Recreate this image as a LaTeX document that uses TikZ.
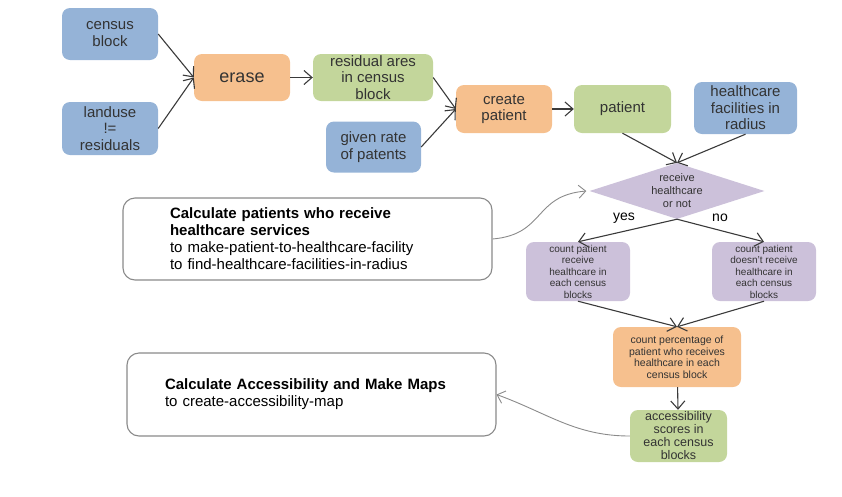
\documentclass[tikz,border=0pt]{standalone}
\usepackage{fontspec}
\setmainfont{Liberation Sans}
\usetikzlibrary{shapes.geometric,arrows.meta}

\definecolor{boxblue}{HTML}{95B3D7}
\definecolor{boxorange}{HTML}{F6C08E}
\definecolor{boxgreen}{HTML}{C3D69B}
\definecolor{boxpurple}{HTML}{CCC1DA}
\definecolor{inktext}{HTML}{333333}
\definecolor{inkline}{HTML}{3A3A3A}
\definecolor{notegray}{HTML}{8A8A8A}

\tikzset{
  stage/.style={rounded corners=8pt, align=center, text=inktext, inner sep=0pt,
    font=\fontsize{15}{16.5}\selectfont},
  bluebox/.style={stage, fill=boxblue},
  orangebox/.style={stage, fill=boxorange},
  greenbox/.style={stage, fill=boxgreen},
  purplebox/.style={stage, fill=boxpurple, font=\fontsize{10}{11.5}\selectfont},
  decision/.style={diamond, aspect=3.1, inner sep=0pt, fill=boxpurple, text=inktext,
    align=center, minimum width=175pt, minimum height=56pt, font=\fontsize{11}{13}\selectfont},
  notebox/.style={draw=notegray, line width=1.1pt, rounded corners=12pt, fill=white,
    align=left, inner ysep=0pt, font=\fontsize{15}{17}\selectfont},
  flow/.style={draw=inkline, line width=1.1pt, -{Straight Barb[length=8pt,width=14pt]}},
  notelink/.style={draw=notegray, line width=0.9pt, -{Straight Barb[length=7pt,width=13pt]}}
}

\begin{document}
\begin{tikzpicture}[x=1pt, y=-1pt]
        \useasboundingbox (0,0) rectangle (842,496);

        \node[bluebox, minimum width=96pt, minimum height=52pt] at (110,34) (census) {census\\block};
        \node[bluebox, minimum width=96pt, minimum height=53pt] at (110,128.5) (landuse) {landuse\\!=\\residuals};
        \node[orangebox, minimum width=96pt, minimum height=47pt, font=\fontsize{18}{20}\selectfont] at (242,77.5) (erase) {erase};
        \node[greenbox, minimum width=120pt, minimum height=47pt] at (373,77.5) (residual) {residual ares\\in census\\block};
        \node[bluebox, minimum width=95pt, minimum height=51pt] at (373.5,147) (rate) {given rate\\of patents};
        \node[orangebox, minimum width=96pt, minimum height=48pt] at (504,109) (create) {create\\patient};
        \node[greenbox, minimum width=97pt, minimum height=48pt] at (622.5,109) (patient) {patient};
        \node[bluebox, minimum width=103pt, minimum height=52pt] at (745.5,108) (facilities) {healthcare\\facilities in\\radius};

        \node[decision] at (677,191) (receive) {receive\\healthcare\\or not};
        \node[font=\fontsize{14}{16}\selectfont, text=black] at (624,218) (yes) {yes};
        \node[font=\fontsize{14}{16}\selectfont, text=black] at (720,218) (no) {no};

        \node[purplebox, minimum width=104pt, minimum height=59pt] at (578,271.5) (countyes) {count patient\\receive\\healthcare in\\each census\\blocks};
        \node[purplebox, minimum width=104pt, minimum height=59pt] at (764,271.5) (countno) {count patient\\doesn't receive\\healthcare in\\each census\\blocks};
        \node[orangebox, minimum width=128pt, minimum height=60pt, font=\fontsize{10.5}{11.5}\selectfont] at (677,357) (percent) {count percentage of\\patient who receives\\healthcare in each\\census block};
        \node[greenbox, minimum width=97pt, minimum height=52pt, font=\fontsize{12.5}{13}\selectfont] at (678.5,436) (scores) {accessibility\\scores in\\each census\\blocks};

        \node[notebox, minimum height=82pt, text width=275pt, inner xsep=47pt] at (307.5,239) (calcpatients) {\textbf{Calculate patients who receive}\\\textbf{healthcare services}\\to make-patient-to-healthcare-facility\\to find-healthcare-facilities-in-radius};
        \node[notebox, minimum height=83pt, text width=293pt, inner xsep=38pt] at (311.5,394.5) (calcmaps) {\textbf{Calculate Accessibility and Make Maps}\\to create-accessibility-map};

        \draw[flow] (census.east) -- (erase.west);
        \draw[flow] (landuse.east) -- (erase.west);
        \draw[flow] (erase) -- (residual);
        \draw[flow] (residual.east) -- (create.west);
        \draw[flow] (rate.east) -- (create.west);
        \draw[flow] (create) -- (patient);
        \draw[flow] (patient.south) -- (receive.north);
        \draw[flow] (facilities.south) -- (receive.north);
        \draw[flow] (receive.south) -- (countyes.north);
        \draw[flow] (receive.south) -- (countno.north);
        \draw[flow] (countyes.south) -- (percent.north);
        \draw[flow] (countno.south) -- (percent.north);
        \draw[flow] (percent) -- (scores);

        \draw[notelink] (calcpatients.east) to[out=5, in=185, looseness=1.3] ([xshift=-3pt]receive.west);
        \draw[notelink] (scores.west) to[out=180, in=-20] (calcmaps.east);

        \end{tikzpicture}
\end{document}
